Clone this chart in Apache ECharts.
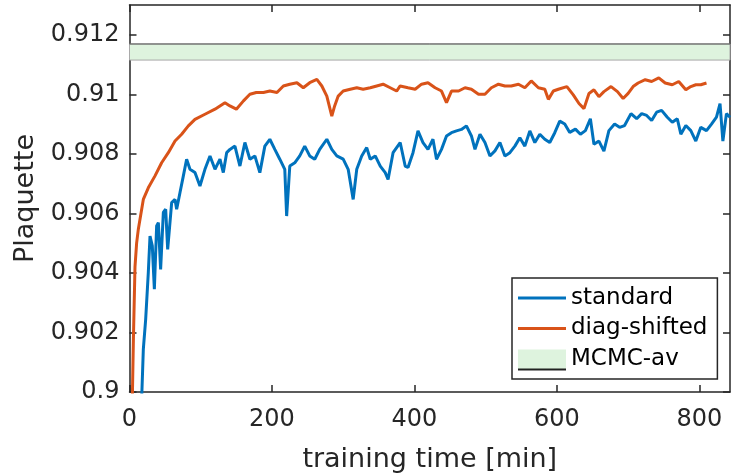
<!DOCTYPE html>
<html>
<head>
<meta charset="utf-8">
<script src="https://cdn.jsdelivr.net/npm/echarts@6/dist/echarts.min.js"></script>
<style>
  html, body { margin: 0; padding: 0; background: #fff; }
  #chart { width: 743px; height: 476px; }
</style>
</head>
<body>
<div id="chart"></div>
<script>
// values (minutes, plaquette)
const stdTime = [16, 19.4, 22.7, 26.4, 28.8, 32, 34.9, 38.1, 40.5, 43.7, 47.5, 50.8, 53.6, 59.2, 63.9, 66.2, 70.9, 75.6, 80.2, 84.9,
  91.9, 98.9, 105.9, 113, 120, 127, 131.7, 136.4, 141, 148, 155, 162, 169, 176, 183, 190, 197, 204, 211, 218,
  220.6, 225, 232, 239, 246, 253, 260, 267, 277, 284, 291, 300, 307, 314, 319, 326, 333, 338, 345, 352,
  359, 363, 370, 380, 387, 391, 398, 405, 412, 419, 426, 431, 438, 445, 452, 459, 466, 473, 480, 485,
  492, 499, 506, 513, 520, 527, 534, 541, 548, 555, 562, 569, 576, 583, 590, 597, 604, 611, 618, 626,
  633, 640, 647, 652, 659, 666, 673, 681, 688, 695, 704, 712, 719, 726, 733, 740, 747, 755, 762, 769,
  774, 781, 788, 795, 802, 810, 817, 824, 829, 833, 838, 843]
const stdValue = [0.8990, 0.90143, 0.90244, 0.90401, 0.90524, 0.90491, 0.90345, 0.90558, 0.90569, 0.90412, 0.90603, 0.90614, 0.90479, 0.90636, 0.90647, 0.90614, 0.90670, 0.90726, 0.90782, 0.90748,
  0.90737, 0.90692, 0.90748, 0.90793, 0.90748, 0.90782, 0.90737, 0.90804, 0.90815, 0.90826, 0.90759, 0.90838, 0.90782, 0.90793, 0.90737, 0.90826, 0.90849, 0.90815, 0.90782, 0.90748,
  0.90591, 0.90759, 0.90770, 0.90793, 0.90826, 0.90793, 0.90782, 0.90815, 0.90849, 0.90815, 0.90793, 0.90782, 0.90748, 0.90647, 0.90748, 0.90793, 0.90821, 0.90782, 0.90793, 0.90759,
  0.90737, 0.90714, 0.90804, 0.90838, 0.90759, 0.90754, 0.90804, 0.90877, 0.90838, 0.90815, 0.90849, 0.90782, 0.90815, 0.90860, 0.90871, 0.90877, 0.90882, 0.90894, 0.90860, 0.90815,
  0.90866, 0.90838, 0.90793, 0.90810, 0.90838, 0.90793, 0.90804, 0.90826, 0.90854, 0.90826, 0.90877, 0.90838, 0.90866, 0.90849, 0.90838, 0.90871, 0.90910, 0.90900, 0.90872, 0.90883,
  0.90866, 0.90878, 0.90918, 0.90832, 0.90843, 0.90809, 0.90878, 0.90900, 0.90889, 0.90895, 0.90935, 0.90918, 0.90935, 0.90929, 0.90912, 0.90940, 0.90946, 0.90923, 0.90906, 0.90918,
  0.90866, 0.90895, 0.90878, 0.90843, 0.90889, 0.90878, 0.90900, 0.90923, 0.90969, 0.90843, 0.90935, 0.90923]

const diagTime = [2, 4, 5.5, 7.7, 10, 12.4, 19.4, 26.4, 35.8, 45.1, 54.5, 63.9, 73.2, 82.6, 91.9, 105.9, 120, 134, 141, 150,
  160, 169, 178, 188, 197, 207, 216, 225, 235, 244, 253, 263, 270, 277, 284, 288, 293, 300, 310, 319,
  328, 338, 347, 356, 366, 375, 380, 391, 401, 410, 419, 429, 438, 445, 452, 462, 471, 480, 490, 499,
  508, 518, 527, 536, 546, 555, 564, 574, 583, 588, 595, 602, 614, 623, 631, 638, 645, 652, 659, 666,
  676, 685, 693, 700, 707, 714, 724, 733, 743, 752, 762, 771, 781, 788, 795, 802, 810]
const diagValue = [0.8980, 0.8998, 0.9018, 0.9042, 0.9050, 0.90547, 0.90647, 0.90686, 0.90726, 0.90770, 0.90804, 0.90843, 0.90866, 0.90894, 0.90916, 0.90933, 0.90950, 0.90972, 0.90961, 0.90950,
  0.90978, 0.91000, 0.91006, 0.91006, 0.91011, 0.91006, 0.91028, 0.91034, 0.91039, 0.91022, 0.91039, 0.91050, 0.91028, 0.90994, 0.90927, 0.90961, 0.90994, 0.91011, 0.91017, 0.91022,
  0.91017, 0.91022, 0.91028, 0.91034, 0.91022, 0.91011, 0.91028, 0.91022, 0.91017, 0.91034, 0.91039, 0.91022, 0.91011, 0.90972, 0.91011, 0.91011, 0.91022, 0.91017, 0.91000, 0.91000,
  0.91022, 0.91034, 0.91028, 0.91028, 0.91034, 0.91022, 0.91045, 0.91022, 0.91017, 0.90983, 0.91011, 0.91017, 0.91026, 0.90998, 0.90969, 0.90952, 0.91003, 0.91015, 0.90992, 0.91009,
  0.91026, 0.91009, 0.90986, 0.91003, 0.91026, 0.91038, 0.91049, 0.91043, 0.91055, 0.91038, 0.91032, 0.91043, 0.91015, 0.91026, 0.91032, 0.91032, 0.91038]

// MCMC average band [low, high]
const mcmcBand = [0.91115, 0.91169]
const mcmcSpan = [0, 843]

const xTicks = [0, 200, 400, 600, 800]
const yTicks = [0.9, 0.902, 0.904, 0.906, 0.908, 0.91, 0.912]

const blue = '#0072BD'
const orange = '#D95319'
const green = '#def3de'
const axisColor = '#262626'
const font = '"DejaVu Sans", sans-serif'

function pairs(xs, ys) {
  return xs.map((x, i) => [x, ys[i]])
}

// box around the plot: bottom/left carry labels, top/right only ticks
function frameAxis(type, pos, show) {
  const isX = type === 'x'
  const ticks = isX ? xTicks : yTicks
  return {
    type: 'value',
    position: pos,
    min: isX ? 0 : 0.9,
    max: isX ? 843 : 0.913,
    axisLine: { show: true, onZero: false, lineStyle: { color: axisColor, width: 1.5 } },
    axisTick: { show: true, inside: true, length: 7, customValues: ticks, lineStyle: { color: axisColor, width: 1.5 } },
    splitLine: { show: false },
    axisLabel: {
      show: show,
      customValues: ticks,
      color: '#262626',
      fontFamily: font,
      fontSize: 24,
      margin: isX ? 16 : 10,
      formatter: v => isX ? String(v) : String(+v.toFixed(3))
    }
  }
}

const chart = echarts.init(document.getElementById('chart'), null, { renderer: 'canvas' })

const xBottom = frameAxis('x', 'bottom', true)
xBottom.name = 'training time [min]'
xBottom.nameLocation = 'middle'
xBottom.nameGap = 54
xBottom.nameTextStyle = { fontFamily: font, fontSize: 27, color: '#262626' }

const yLeft = frameAxis('y', 'left', true)
yLeft.name = 'Plaquette'
yLeft.nameLocation = 'middle'
yLeft.nameGap = 88
yLeft.nameTextStyle = { fontFamily: font, fontSize: 27, color: '#262626' }

const lineIcon = 'path://M0,0H48V3H0Z'

const option = {
  animation: false,
  backgroundColor: '#fff',
  grid: { left: 129.5, right: 13, top: 5, bottom: 84, containLabel: false, outerBoundsMode: 'none' },
  xAxis: [xBottom, frameAxis('x', 'top', false)],
  yAxis: [yLeft, frameAxis('y', 'right', false)],
  legend: {
    orient: 'vertical',
    left: 512,
    top: 278,
    width: 205,
    padding: [7, 10, 7, 6],
    itemGap: 4.5,
    itemWidth: 48,
    itemHeight: 19,
    itemTextGap: 4,
    backgroundColor: '#fff',
    borderColor: axisColor,
    borderWidth: 1.5,
    borderRadius: 0,
    textStyle: { fontFamily: font, fontSize: 23, color: '#000', lineHeight: 26 },
    data: [
      { name: 'standard', icon: lineIcon, itemStyle: { color: blue } },
      { name: 'diag-shifted', icon: lineIcon, itemStyle: { color: orange } },
      { name: 'MCMC-av', icon: 'rect', itemStyle: { color: green, shadowColor: '#222', shadowOffsetY: 2, shadowBlur: 0 } }
    ]
  },
  series: [
    {
      // green band, its darker upper edge drawn as a plain line
      name: 'MCMC-av',
      type: 'line',
      data: pairs(mcmcSpan, [mcmcBand[1], mcmcBand[1]]),
      symbol: 'none',
      color: green,
      lineStyle: { color: '#555', width: 1 },
      z: 1,
      markArea: {
        silent: true,
        itemStyle: { color: green, borderColor: '#a9a9a9', borderWidth: 1 },
        data: [[{ yAxis: mcmcBand[0] }, { yAxis: mcmcBand[1] }]]
      }
    },
    {
      name: 'standard',
      type: 'line',
      data: pairs(stdTime, stdValue),
      symbol: 'none',
      color: blue,
      lineStyle: { color: blue, width: 3 },
      clip: true
    },
    {
      name: 'diag-shifted',
      type: 'line',
      data: pairs(diagTime, diagValue),
      symbol: 'none',
      color: orange,
      lineStyle: { color: orange, width: 3 },
      clip: true
    }
  ]
}

chart.setOption(option)
</script>
</body>
</html>
